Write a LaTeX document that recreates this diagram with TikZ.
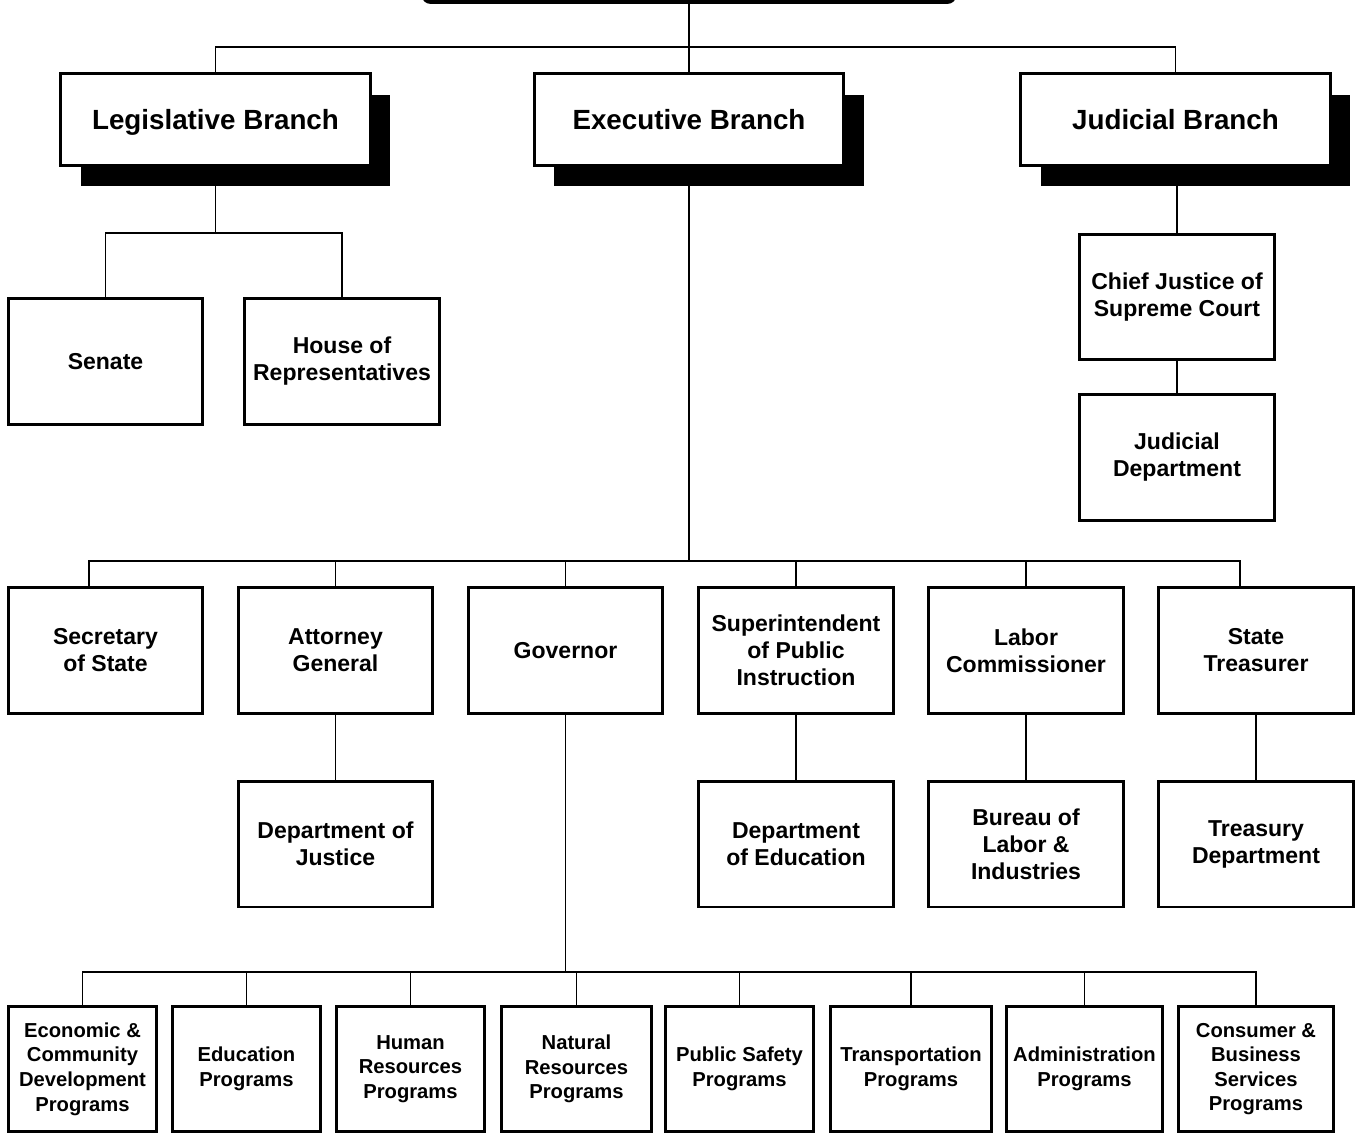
\documentclass[tikz,border=0pt]{standalone}
\usepackage{fontspec}
\setmainfont{Liberation Sans}
\usetikzlibrary{shadows}

\begin{document}
\begin{tikzpicture}[x=0.02cm, y=-0.02cm,
        branch/.style={draw, rectangle, line width=1.7pt, fill=white, minimum width=6.2cm, minimum height=1.84cm,
            text height=11.3pt, text depth=0pt, font=\fontsize{15.8pt}{19pt}\selectfont\bfseries,
            drop shadow={shadow xshift=0.4cm, shadow yshift=-0.42cm, fill=black, opacity=1}},
        office/.style={draw, rectangle, line width=1.7pt, fill=white, minimum width=3.9cm, minimum height=2.52cm,
            align=center, font=\fontsize{13.1pt}{15.4pt}\selectfont\bfseries},
        program/.style={draw, rectangle, line width=1.7pt, fill=white, minimum height=2.5cm, inner sep=1pt,
            align=center, font=\fontsize{11.5pt}{14pt}\selectfont\bfseries},
        link/.style={line width=1pt}]
        \clip (0,0) rectangle (1356,1135);

        \node (top) at (689, -28) [draw, rectangle, rounded corners=4pt, line width=2.2pt, minimum width=10.62cm, minimum height=1.2cm] {};

        \node (leg) at (215.5, 119.5) [branch] {Legislative Branch};
        \node (exe) at (689.0, 119.5) [branch] {Executive Branch};
        \node (jud) at (1175.5, 119.5) [branch] {Judicial Branch};

        \node (sen) at (105.5, 361.5) [office] {Senate};
        \node (hou) at (342.0, 361.5) [office] {House of\\Representatives};
        \node (cj)  at (1177.0, 297.0) [office] {Chief Justice of\\Supreme Court};
        \node (jd)  at (1177.0, 457.5) [office] {Judicial\\Department};

        \node (sec) at (105.5, 650.5) [office] {Secretary\\of State};
        \node (att) at (335.5, 650.5) [office] {Attorney\\General};
        \node (gov) at (565.5, 650.5) [office] {Governor};
        \node (sup) at (796.0, 650.5) [office] {Superintendent\\of Public\\Instruction};
        \node (lab) at (1026.0, 650.5) [office] {Labor\\Commissioner};
        \node (tre) at (1256.0, 650.5) [office] {State\\Treasurer};

        \node (dj)  at (335.5, 844.0) [office] {Department of\\Justice};
        \node (de)  at (796.0, 844.0) [office] {Department\\of Education};
        \node (bli) at (1026.0, 844.0) [office] {Bureau of\\Labor \&\\Industries};
        \node (td)  at (1256.0, 844.0) [office] {Treasury\\Department};

        \node (p1) at (82.5, 1069) [program, minimum width=2.96cm] {Economic \&\\Community\\Development\\Programs};
        \node (p2) at (246.5, 1069) [program, minimum width=2.96cm] {Education\\Programs};
        \node (p3) at (410.5, 1069) [program, minimum width=2.96cm] {Human\\Resources\\Programs};
        \node (p4) at (576.5, 1069) [program, minimum width=3.0cm] {Natural\\Resources\\Programs};
        \node (p5) at (739.5, 1069) [program, minimum width=2.96cm] {Public Safety\\Programs};
        \node (p6) at (911.0, 1069) [program, minimum width=3.22cm] {Transportation\\Programs};
        \node (p7) at (1084.5, 1069) [program, minimum width=3.12cm] {Administration\\Programs};
        \node (p8) at (1256.0, 1069) [program, minimum width=3.1cm] {Consumer \&\\Business\\Services\\Programs};

        % bus lines
        \coordinate (b0) at (689, 47);
        \coordinate (b1) at (215.5, 233);
        \coordinate (b2) at (689, 561);
        \coordinate (b3) at (565.5, 972);

        \draw[link] (top.south) -- (b0);
        \draw[link] (leg.north) |- (b0) -| (jud.north);
        \draw[link] (b0) -- (exe.north);

        \draw[link] (leg.south) -- (b1);
        \draw[link] (sen.north) |- (b1) -| (hou.north);

        \draw[link] (cj.north) -- (cj.north |- jud.south);
        \draw[link] (cj.south) -- (jd.north);

        \draw[link] (exe.south) -- (b2);
        \draw[link] ([xshift=-0.33cm]sec.north) |- (b2) -| ([xshift=-0.32cm]tre.north);
        \foreach \n in {att, gov, sup, lab}
            \draw[link] (\n.north) -- (\n.north |- b2);

        \draw[link] (att.south) -- (dj.north);
        \draw[link] (sup.south) -- (de.north);
        \draw[link] (lab.south) -- (bli.north);
        \draw[link] (tre.south) -- (td.north);

        \draw[link] (gov.south) -- (b3);
        \draw[link] (p1.north) |- (b3) -| (p8.north);
        \foreach \n in {p2, p3, p4, p5, p6, p7}
            \draw[link] (\n.north) -- (\n.north |- b3);
    \end{tikzpicture}
\end{document}
